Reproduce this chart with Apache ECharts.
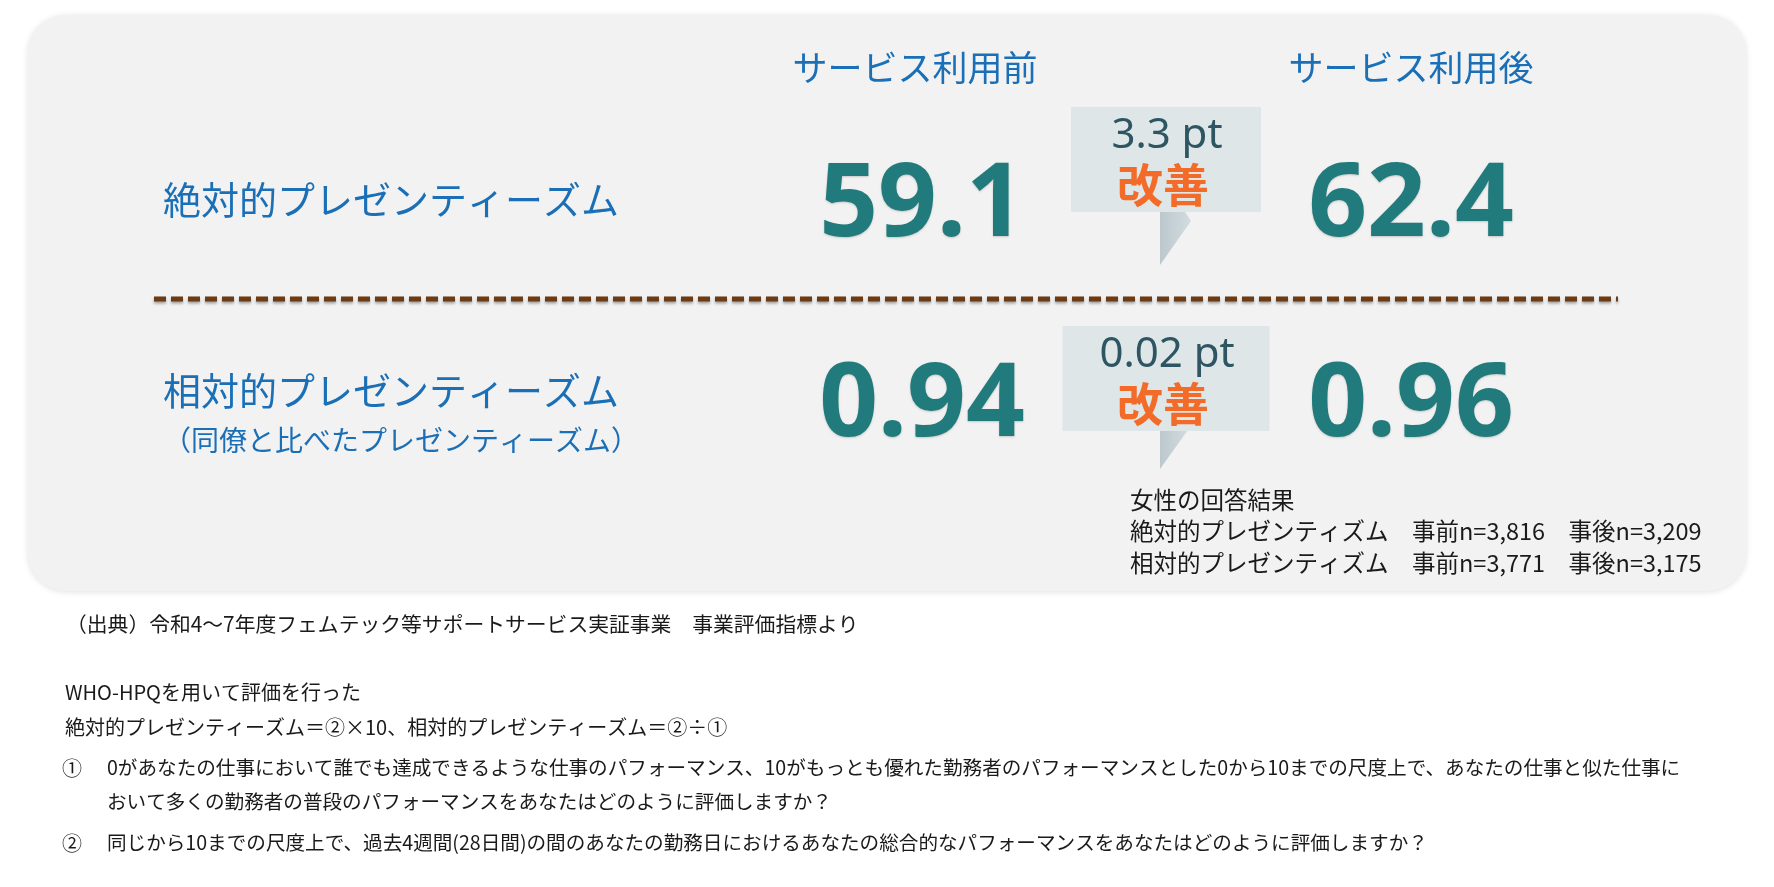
<!DOCTYPE html>
<html>
<head>
<meta charset="utf-8">
<script src="https://cdn.jsdelivr.net/npm/echarts@6/dist/echarts.min.js"></script>
<style>
html,body{margin:0;padding:0;background:#ffffff;}
#main{width:1774px;height:887px;}
</style>
</head>
<body>
<div id="main"></div>
<script>
// ---- data ----
const columns = ['サービス利用前', '', 'サービス利用後'];
const rowLabels = ['絶対的プレゼンティーズム', '相対的プレゼンティーズム'];
const rowSubLabels = ['', '（同僚と比べたプレゼンティーズム）'];
const beforeValues = [59.1, 0.94];
const afterValues = [62.4, 0.96];
const improvementPt = [3.3, 0.02];
const decimals = [1, 2];
const improvementWord = '改善';
const noteTitle = '女性の回答結果';
const noteLabels = ['絶対的プレゼンティズム', '相対的プレゼンティズム'];
const nBefore = [3816, 3771];
const nAfter = [3209, 3175];
const sourceText = '（出典）令和4～7年度フェムテック等サポートサービス実証事業　事業評価指標より';
const methodLines = [
  'WHO-HPQを用いて評価を行った',
  '絶対的プレゼンティーズム＝②×10、相対的プレゼンティーズム＝②÷①'
];
const questionMarks = ['①', '②'];
const questionLines = [
  ['0があなたの仕事において誰でも達成できるような仕事のパフォーマンス、10がもっとも優れた勤務者のパフォーマンスとした0から10までの尺度上で、あなたの仕事と似た仕事に',
   'おいて多くの勤務者の普段のパフォーマンスをあなたはどのように評価しますか？'],
  ['同じから10までの尺度上で、過去4週間(28日間)の間のあなたの勤務日におけるあなたの総合的なパフォーマンスをあなたはどのように評価しますか？']
];

// ---- layout / style (not data) ----
const JP = '"Noto Sans CJK JP", "Noto Sans", sans-serif';
const NUM = '"Noto Sans", "Open Sans", sans-serif';
const BLUE = '#1a6fb6';
const TEAL = '#217b7c';
const ORANGE = '#f26b28';
const calloutLayout = [
  {w: 190, dy: -100, h: 105, tail: [[-6, -5], [16, -5], [25, 9], [-6, 53]]},
  {w: 207, dy: -81, h: 105, tail: [[-6, -1], [22, -1], [-6, 38]]}
];

const chart = echarts.init(document.getElementById('main'));

const fmt = (v, i) => v.toFixed(decimals[i]);
const noteText = [noteTitle].concat(noteLabels.map((l, i) =>
  l + '　事前n=' + nBefore[i].toLocaleString('en-US') + '　事後n=' + nAfter[i].toLocaleString('en-US')
)).join('\n');

const TXT = '#1a1a1a';
const footerGraphics = [
  {type: 'text', left: 66, top: 614, style: {text: sourceText, font: '20.8px ' + JP, fill: TXT}},
  {type: 'text', left: 65, top: 682, style: {text: methodLines[0], font: '20px ' + JP, fill: TXT}},
  {type: 'text', left: 65, top: 717, style: {text: methodLines[1], font: '20px ' + JP, fill: TXT}},
  {type: 'text', left: 62, top: 758, style: {text: questionMarks[0], font: '20px ' + JP, fill: TXT}},
  {type: 'text', left: 107, top: 758, style: {text: questionLines[0][0], font: '19.6px ' + JP, fill: TXT}},
  {type: 'text', left: 107, top: 792, style: {text: questionLines[0][1], font: '19.6px ' + JP, fill: TXT}},
  {type: 'text', left: 62, top: 833, style: {text: questionMarks[1], font: '20px ' + JP, fill: TXT}},
  {type: 'text', left: 107, top: 833, style: {text: questionLines[1][0], font: '19.6px ' + JP, fill: TXT}}
];

const numLabel = {
  show: true, position: 'inside',
  formatter: p => fmt(p.value[2], p.dataIndex),
  fontSize: 103, fontWeight: 'bold', fontFamily: NUM, color: TEAL,
  textShadowColor: 'rgba(0,0,0,0.18)', textShadowBlur: 2, textShadowOffsetY: 1
};

const option = {
  backgroundColor: '#ffffff',
  animation: false,
  graphic: [
    {type: 'rect', z: -10, shape: {x: 28, y: 15, width: 1718, height: 576, r: 38},
     style: {fill: '#f2f2f2', shadowBlur: 6, shadowColor: 'rgba(0,0,0,0.12)', shadowOffsetY: 1}},
    {type: 'line', z: -5, shape: {x1: 154, y1: 299, x2: 1618, y2: 299},
     style: {stroke: '#6c3a13', lineWidth: 5, lineDash: [12, 5], shadowBlur: 3, shadowColor: 'rgba(0,0,0,0.35)', shadowOffsetY: 2}},
    {type: 'text', left: 1130, top: 484,
     style: {text: noteText, font: '23.5px ' + JP, fill: TXT, lineHeight: 31.5}}
  ].concat(footerGraphics),
  grid: {left: 791, top: 107, width: 744, height: 400, containLabel: false},
  xAxis: {
    type: 'category', data: columns, position: 'top',
    axisLine: {show: false}, axisTick: {show: false}, splitLine: {show: false},
    axisLabel: {interval: 0, margin: 39, verticalAlign: 'middle', fontSize: 35, fontFamily: JP, color: BLUE}
  },
  yAxis: {
    type: 'category', data: rowLabels, inverse: true,
    axisLine: {show: false}, axisTick: {show: false}, splitLine: {show: false},
    axisLabel: {
      interval: 0, margin: 628, align: 'left', verticalAlign: 'middle',
      formatter: (v, i) => rowSubLabels[i] ? '{main|' + v + '}\n{sub|' + rowSubLabels[i] + '}' : '{main|' + v + '}\n{gap|}',
      rich: {
        main: {fontSize: 38, fontFamily: JP, color: BLUE, lineHeight: 66, align: 'left'},
        sub: {fontSize: 28, fontFamily: JP, color: BLUE, lineHeight: 32, align: 'left'},
        gap: {fontSize: 10, lineHeight: 14}
      }
    }
  },
  series: [
    {
      name: columns[0], type: 'scatter', symbolSize: 0,
      itemStyle: {opacity: 1},
      data: beforeValues.map((v, i) => [0, i, v]),
      label: Object.assign({}, numLabel, {offset: [7, 0]})
    },
    {
      name: columns[2], type: 'scatter', symbolSize: 0,
      itemStyle: {opacity: 1},
      data: afterValues.map((v, i) => [2, i, v]),
      label: numLabel
    },
    {
      name: improvementWord, type: 'custom',
      data: improvementPt.map((v, i) => [1, i, v]),
      renderItem: (params, api) => {
        const i = params.dataIndex;
        const c = api.coord([api.value(0), api.value(1)]);
        const cx = c[0] + 3, cy = c[1];
        const L = calloutLayout[i];
        const top = cy + L.dy, bottom = top + L.h;
        return {
          type: 'group',
          children: [
            {type: 'polygon', shape: {points: L.tail.map(p => [cx + p[0], bottom + p[1]])},
             style: {fill: new echarts.graphic.LinearGradient(0, 0, 1, 0, [{offset: 0, color: '#bcc8ce'}, {offset: 1, color: '#d3dcdf'}])}},
            {type: 'rect', shape: {x: cx - L.w / 2, y: top, width: L.w, height: L.h},
             style: {fill: '#dfe6e8'}},
            {type: 'text', style: {text: fmt(api.value(2), i) + ' pt', x: cx + 1, y: top + 29,
              align: 'center', verticalAlign: 'middle', font: '42px ' + NUM, fill: '#2d5662'}},
            {type: 'text', style: {text: improvementWord, x: cx - 3, y: top + 78,
              align: 'center', verticalAlign: 'middle', font: 'bold 46px ' + JP, fill: ORANGE}}
          ]
        };
      }
    }
  ]
};
chart.setOption(option);
</script>
</body>
</html>
